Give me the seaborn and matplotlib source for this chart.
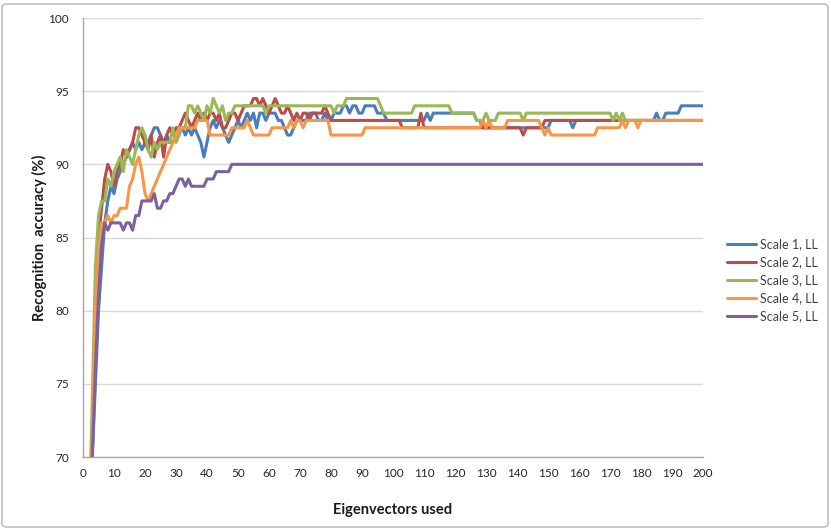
import numpy as np
import pandas as pd
import matplotlib
matplotlib.use("Agg")
import matplotlib.pyplot as plt
from matplotlib.patches import FancyBboxPatch
import seaborn as sns

# ---------------- data ----------------
eigenvectors = list(range(1, 201))

scale1 = ([50, 60, 70, 75, 80, 83, 86, 87.5, 88.5, 88, 89, 89.5, 90, 90.5, 91, 91.5, 91, 91.5, 91, 91.5,
           91.5, 92, 92.5, 92.5, 92, 91.5, 92, 91.5, 91.5, 92, 92.5, 92.5, 92, 92.5, 92, 92.5, 92, 91.5, 90.5, 91.5,
           92.5, 93, 92.5, 93, 92.5, 92, 91.5, 92, 92.5, 93, 92.5, 93, 93.5, 93, 93.5, 92.5, 93.5, 93.5, 93, 93.5,
           93.5, 93.5, 93, 93, 92.5, 92, 92, 92.5, 93, 93, 93, 93, 93.5, 93.5, 93.5, 93, 93, 93.5, 93, 93,
           93.5, 93.5, 93.5, 94, 94, 93.5, 94, 94, 93.5, 93.5, 94, 94, 94, 94, 93.5, 93.5, 93.5]
          + [93] * 13 + [93.5, 93] + [93.5] * 14 + [93] * 2 + [92.5] * 22 + [93] * 7 + [92.5]
          + [93] * 26 + [93.5] + [93] * 2 + [93.5] * 5 + [94] * 8)

scale2 = ([55, 63, 71, 79, 85, 87, 89, 90, 89.5, 88.5, 89.5, 90, 91, 90.5, 91, 91.5, 92.5, 92.5, 92, 91.5,
           91, 92, 90.5, 91.5, 92, 90.5, 92, 92.5, 92, 92.5, 92.5, 93, 93.5, 93, 92.5, 93, 93.5, 93, 93.5, 93,
           93.5, 93.5, 93, 93.5, 92.5, 92.5, 93, 93.5, 93.5, 93, 93.5, 94, 94, 94, 94.5, 94.5, 94, 94.5, 94, 93.5,
           94, 94.5, 94, 93.5, 93.5, 94, 93.5, 93, 93.5, 93, 93.5, 93.5, 93, 93.5, 93.5, 93.5, 93.5, 94, 93.5]
          + [93] * 23 + [92.5] * 6 + [93.5] + [92.5] * 32 + [92] + [92.5] * 6 + [93] * 52)

scale3 = ([58, 66, 74, 83, 86.5, 87.5, 87.5, 89, 88.5, 89.5, 90, 90.5, 89.5, 91, 90.5, 90, 91, 92, 92.5, 92,
           91, 90.5, 91.5, 91, 91.5, 91.5, 91.5, 91.5, 92.5, 91.5, 92, 92.5, 92.5, 94, 94, 93.5, 94, 93.5, 93, 94,
           93.5, 94.5, 94, 93.5, 94, 93, 93.5, 93.5, 94]
          + [94] * 9 + [93.5] + [94] * 21 + [93.5] + [94] * 3 + [94.5] * 11 + [94] + [93.5] * 10
          + [94] * 12 + [93.5] * 8 + [93] * 3 + [93.5] + [93] * 3 + [93.5] * 8 + [93] + [93.5] * 28
          + [93, 93.5, 93, 93.5, 93] + [93] * 25)

scale4 = ([56, 64, 72, 80, 84, 86, 86, 86.5, 86, 86.5, 86.5, 87, 87, 87, 88.5, 89, 90, 90.5, 89.5, 88,
           87.5, 88, 88.5, 89, 89.5, 90, 90.5, 91, 91.5, 92, 92.5, 92.5, 92.5, 92.5, 92.5, 92.5, 93, 93, 93, 93,
           92, 92, 92, 92, 92, 92, 92, 92.5, 92.5, 92.5, 92.5, 92.5, 93, 92.5, 92, 92, 92, 92, 92, 92,
           92.5, 92.5, 92.5, 92.5, 92.5, 92.5, 93, 92.5, 93, 93, 92.5]
          + [93] * 8 + [92] * 11 + [92.5] * 38 + [93, 92.5, 93, 92.5] + [92.5] * 4 + [93] * 11
          + [92.5, 92, 92.5] + [92] * 15 + [92.5] * 8 + [93, 92.5, 93, 93, 93, 92.5] + [93] * 21)

scale5 = ([55, 63, 70, 76, 81, 84.5, 86, 85.5, 86, 86, 86, 86, 85.5, 86, 86, 85.5, 86.5, 86.5, 87.5, 87.5,
           87.5, 87.5, 88, 87, 87, 87.5, 87.5, 88, 88, 88.5, 89, 89, 88.5, 89, 88.5, 88.5, 88.5, 88.5, 88.5, 89,
           89, 89, 89.5, 89.5, 89.5, 89.5, 89.5]
          + [90] * 153)

series_names = ["Scale 1, LL", "Scale 2, LL", "Scale 3, LL", "Scale 4, LL", "Scale 5, LL"]
series_values = [scale1, scale2, scale3, scale4, scale5]
colors = ["#4A7EBB", "#BE4B48", "#98B954", "#F79646", "#7D60A0"]

x_ticks = list(range(0, 201, 10))
y_ticks = [70, 75, 80, 85, 90, 95, 100]

# ---------------- build long-form table ----------------
df = pd.DataFrame({
    "Eigenvectors used": np.tile(eigenvectors, len(series_names)),
    "Recognition accuracy (%)": np.concatenate([np.asarray(v, dtype=float) for v in series_values]),
    "Series": np.repeat(series_names, len(eigenvectors)),
})

# ---------------- plot ----------------
sns.set_style("white")
plt.rcParams["font.family"] = ["Lato", "DejaVu Sans"]

W, H = 831, 531
fig = plt.figure(figsize=(W / 100, H / 100), dpi=100)
ax = fig.add_axes([83 / W, 1 - 457 / H, (703 - 83) / W, (457 - 18) / H])

sns.lineplot(data=df, x="Eigenvectors used", y="Recognition accuracy (%)", hue="Series",
             palette=colors, linewidth=2.2, estimator=None, errorbar=None, ax=ax,
             legend=True)

ax.set_xlim(0, 200)
ax.set_ylim(70, 100)
ax.set_xticks(x_ticks)
ax.set_yticks(y_ticks)
ax.set_xticklabels([str(t) for t in x_ticks])
ax.set_yticklabels([str(t) for t in y_ticks])
ax.yaxis.grid(True, color="#D9D9D9", linewidth=1.0)
ax.xaxis.grid(False)
ax.set_axisbelow(True)

for s in ["top", "right"]:
    ax.spines[s].set_visible(False)
for s in ["left", "bottom"]:
    ax.spines[s].set_color("#A6A6A6")
    ax.spines[s].set_linewidth(1.0)

ax.tick_params(axis="both", which="both", direction="out", length=4, width=1,
               color="#A6A6A6", labelsize=8.5, labelcolor="#262626")
ax.tick_params(axis="x", pad=4)
ax.tick_params(axis="y", pad=6)

ax.set_xlabel("Eigenvectors used", fontsize=10.5, fontweight="bold", color="#1a1a1a", labelpad=17)
ax.set_ylabel("Recognition  accuracy (%)", fontsize=10.5, fontweight="bold", color="#1a1a1a", labelpad=1)

handles, labels = ax.get_legend_handles_labels()
leg = ax.legend(handles, labels, loc="upper left", bbox_to_anchor=(722 / W, 1 - 233 / H),
                bbox_transform=fig.transFigure, frameon=False, fontsize=9,
                handlelength=2.3, handletextpad=0.3, labelspacing=0.48, borderaxespad=0)
for line in leg.get_lines():
    line.set_linewidth(2.2)
for t in leg.get_texts():
    t.set_color("#404040")

# chart-area border
border = FancyBboxPatch((2 / W, 4 / H), (W - 5) / W, (H - 8) / H,
                        boxstyle="round,pad=0,rounding_size=0.006",
                        transform=fig.transFigure, fill=False,
                        edgecolor="#BFBFBF", linewidth=1.2)
fig.patches.append(border)

fig.savefig("out.png", dpi=100)
